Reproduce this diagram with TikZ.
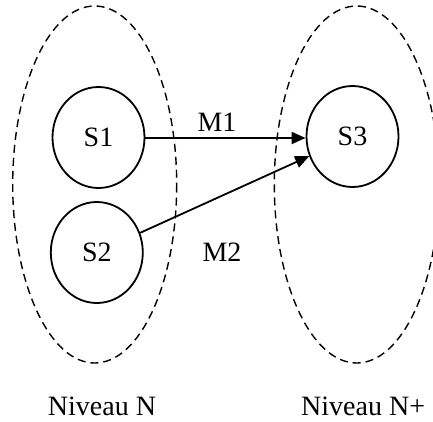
\documentclass[tikz,border=0pt]{standalone}
\usepackage{fontspec}
\setmainfont{Liberation Serif}
\usetikzlibrary{arrows.meta,shapes.geometric}
\begin{document}
\begin{tikzpicture}[x=1pt,y=-1pt,
  grp/.style={draw,line width=1.4pt,dash pattern=on 8pt off 5pt},
  sys/.style={draw,line width=1.8pt,ellipse,minimum width=92pt,minimum height=101pt,inner sep=0pt,font=\fontsize{28}{32}\selectfont},
  lbl/.style={font=\fontsize{28}{32}\selectfont,inner sep=0pt},
  msg/.style={line width=1.8pt,-{Triangle[length=14pt,width=12pt]}}]
\useasboundingbox (0,0) rectangle (433,421);
\clip (0,0) rectangle (433,421);
\draw[grp] (94.7,184.5) ellipse [x radius=82, y radius=178.5];
\draw[grp] (356.7,184.5) ellipse [x radius=82.4, y radius=178.5];
\node[sys] (s1) at (98.5,137.5) {S1};
\node[sys] (s2) at (96.8,252.5) {S2};
\node[sys] (s3) at (352.5,136.5) {S3};
\draw[msg] (s1.east |- 0,138) -- (s3.west |- 0,138);
\draw[msg] (s2) -- (s3);
\node[lbl] (m1) at (217,122) {M1};
\node[lbl] (m2) at (222,252) {M2};
\node[lbl] (n1) at (102,406) {Niveau N};
\node[lbl,anchor=west] (n2) at (301,406) {Niveau N+};
\end{tikzpicture}
\end{document}
